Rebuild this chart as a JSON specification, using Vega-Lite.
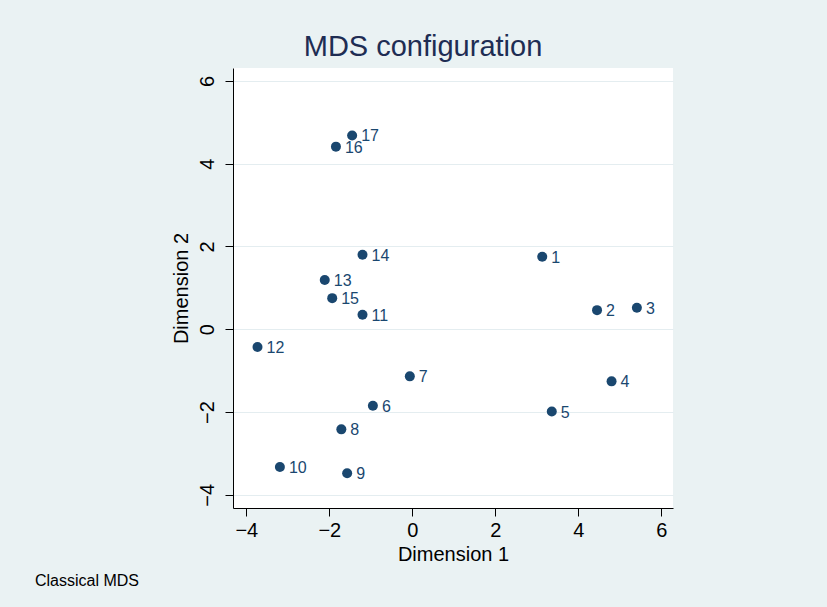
{
  "$schema": "https://vega.github.io/schema/vega-lite/v6.json",
  "autosize": "none",
  "width": 440,
  "height": 440,
  "padding": {"left": 233, "top": 68, "right": 154, "bottom": 99},
  "background": "#eaf2f3",
  "title": {
    "text": "MDS configuration",
    "font": "Liberation Sans",
    "fontSize": 29,
    "fontWeight": "normal",
    "color": "#1e2d53",
    "anchor": "middle",
    "frame": "group",
    "baseline": "alphabetic",
    "offset": 13,
    "dx": -30,
    "dy": 30
  },
  "config": {
    "view": {"fill": "white", "stroke": null},
    "font": "Liberation Sans"
  },
  "datasets": {
    "pts": [
      {"id": "1", "dim1": 3.13, "dim2": 1.75},
      {"id": "2", "dim1": 4.45, "dim2": 0.46},
      {"id": "3", "dim1": 5.41, "dim2": 0.52},
      {"id": "4", "dim1": 4.80, "dim2": -1.26},
      {"id": "5", "dim1": 3.36, "dim2": -1.99},
      {"id": "6", "dim1": -0.95, "dim2": -1.85},
      {"id": "7", "dim1": -0.06, "dim2": -1.14},
      {"id": "8", "dim1": -1.71, "dim2": -2.42},
      {"id": "9", "dim1": -1.57, "dim2": -3.48},
      {"id": "10", "dim1": -3.19, "dim2": -3.33},
      {"id": "11", "dim1": -1.20, "dim2": 0.35},
      {"id": "12", "dim1": -3.73, "dim2": -0.43},
      {"id": "13", "dim1": -2.11, "dim2": 1.19},
      {"id": "14", "dim1": -1.20, "dim2": 1.80},
      {"id": "15", "dim1": -1.93, "dim2": 0.75},
      {"id": "16", "dim1": -1.84, "dim2": 4.41},
      {"id": "17", "dim1": -1.45, "dim2": 4.68}
    ],
    "note": [
      {"txt": "Classical MDS", "dim1": -9.09, "dim2": -6.2}
    ]
  },
  "encoding": {
    "x": {
      "field": "dim1", "type": "quantitative",
      "scale": {"domain": [-4.32, 6.28], "nice": false, "zero": false},
      "axis": {
        "title": "Dimension 1",
        "values": [-4, -2, 0, 2, 4, 6],
        "grid": false,
        "domainColor": "#000000",
        "domainWidth": 1,
        "tickColor": "#000000",
        "tickSize": 8,
        "labelFontSize": 20,
        "labelColor": "#000000",
        "labelPadding": 4,
        "labelFont": "Liberation Sans",
        "titleFont": "Liberation Sans",
        "titleFontSize": 20,
        "titleFontWeight": "normal",
        "titleColor": "#000000",
        "titlePadding": 4
      }
    },
    "y": {
      "field": "dim2", "type": "quantitative",
      "scale": {"domain": [-4.32, 6.31], "nice": false, "zero": false},
      "axis": {
        "title": "Dimension 2",
        "values": [-4, -2, 0, 2, 4, 6],
        "grid": true,
        "gridColor": "#e4edf0",
        "gridWidth": 1,
        "domainColor": "#000000",
        "domainWidth": 1,
        "tickColor": "#000000",
        "tickSize": 8,
        "labelAngle": -90,
        "labelAlign": "center",
        "labelBaseline": "bottom",
        "labelFontSize": 20,
        "labelColor": "#000000",
        "labelPadding": 8,
        "labelFont": "Liberation Sans",
        "titleFont": "Liberation Sans",
        "titleFontSize": 20,
        "titleFontWeight": "normal",
        "titleColor": "#000000",
        "titlePadding": 6
      }
    }
  },
  "layer": [
    {
      "data": {"name": "pts"},
      "mark": {"type": "point", "filled": true, "shape": "circle", "size": 100, "color": "#1a476f", "opacity": 1}
    },
    {
      "data": {"name": "pts"},
      "mark": {"type": "text", "align": "left", "baseline": "middle", "dx": 9, "dy": 1, "fontSize": 16, "color": "#1a476f", "font": "Liberation Sans"},
      "encoding": {"text": {"field": "id"}}
    },
    {
      "data": {"name": "note"},
      "mark": {"type": "text", "align": "left", "baseline": "alphabetic", "fontSize": 16, "color": "#000000", "font": "Liberation Sans", "clip": false},
      "encoding": {"text": {"field": "txt"}}
    }
  ]
}
